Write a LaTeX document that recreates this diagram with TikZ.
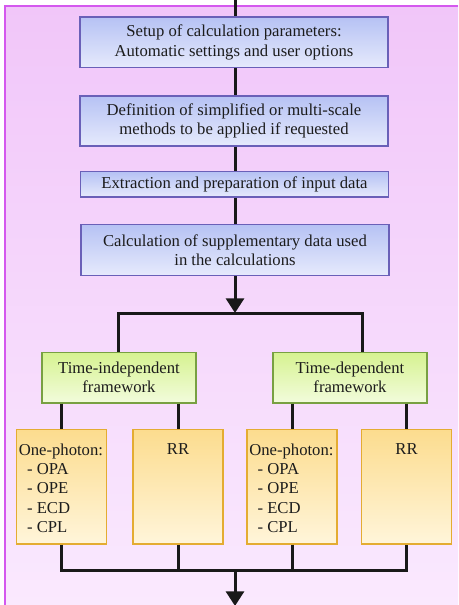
\documentclass[tikz,border=0pt]{standalone}
\usepackage{fontspec}
\setmainfont{Liberation Serif}
\usepackage{xcolor}
\usepackage{tikz}
\usetikzlibrary{
  arrows.meta,
  positioning,
  calc
}
\definecolor{bgtop}{HTML}{F1C6F9}
\definecolor{bgbot}{HTML}{FAE9FE}
\definecolor{bgline}{HTML}{D458EE}
\definecolor{calctop}{HTML}{B6C2F4}
\definecolor{calcbot}{HTML}{E6EAFC}
\definecolor{calcline}{HTML}{6A60B8}
\definecolor{frametop}{HTML}{D6F290}
\definecolor{framebot}{HTML}{F2FCDC}
\definecolor{frameline}{HTML}{78A042}
\definecolor{spectop}{HTML}{FCDC8E}
\definecolor{specbot}{HTML}{FFF5DA}
\definecolor{specline}{HTML}{E4AC32}
\definecolor{ink}{HTML}{1C1C1C}

\begin{document}
\begin{tikzpicture}[
      x=0.75pt, y=-0.75pt,
      font=\fontsize{12.5}{14.5}\selectfont,
      every node/.style={text=ink},
      calcbox/.style={draw=calcline, line width=1pt, top color=calctop,
                   bottom color=calcbot, minimum width=231pt, align=center,
                   inner sep=0pt},
      framebox/.style={draw=frameline, line width=1pt, top color=frametop,
                   bottom color=framebot, minimum width=115.5pt,
                   minimum height=38pt, align=center, inner sep=0pt},
      specbox/.style={draw=specline, line width=1pt, top color=spectop,
                   bottom color=specbot, minimum width=67.5pt,
                   minimum height=86pt, inner sep=0pt},
      link/.style={line width=2.25pt, black!90},
      flow/.style={link, -{Triangle[width=13.5pt,length=11pt]}}
  ]
      % Fond et bordure
      \useasboundingbox (0,0) rectangle (458,605);
      \fill[top color=bgtop, bottom color=bgbot] (5,6) rectangle (458,605);
      \draw[bgline, line width=1.5pt] (458,6) -- (5,6) -- (5,605);

      % Etapes de calcul
      \node[calcbox, minimum height=38pt] (setup) at (234,42.5)
          {Setup of calculation parameters:\\Automatic settings and user options};
      \node[calcbox, minimum height=37.5pt] (methods) at (234,121)
          {Definition of simplified or multi-scale\\methods to be applied if requested};
      \node[calcbox, minimum height=19pt] (extract) at (234.5,184.5)
          {Extraction and preparation of input data};
      \node[calcbox, minimum height=38pt] (suppl) at (235,250)
          {Calculation of supplementary data used\\in the calculations};

      % Cadres
      \node[framebox] (tind) at (119,377.5) {Time-independent\\framework};
      \node[framebox] (tdep) at (350,377.5) {Time-dependent\\framework};

      % Spectres
      \node[specbox] (ophA) at (61.5,486.5) {};
      \node[specbox] (rrA) at (178,486.5) {};
      \node[specbox] (ophB) at (292,486.5) {};
      \node[specbox] (rrB) at (406.5,486.5) {};
      \foreach \s in {ophA,ophB}
          \node[anchor=north west, align=left, inner sep=0pt]
              at ([xshift=2pt,yshift=-11pt]\s.north west)
              {One-photon:\\\ \ - OPA\\\ \ - OPE\\\ \ - ECD\\\ \ - CPL};
      \foreach \s in {rrA,rrB}
          \node[anchor=north, inner sep=0pt] at ([yshift=-11pt]\s.north) {RR};

      % Liaisons
      \coordinate (top) at (235,0);
      \coordinate (split) at (235,313);
      \coordinate (join) at (235,570);
      \coordinate (out) at (235,606);
      \draw[link] (top) -- (setup.north -| top);
      \draw[link] (setup.south -| top) -- (methods.north -| top);
      \draw[link] (methods.south -| top) -- (extract.north -| top);
      \draw[link] (extract.south -| top) -- (suppl.north -| top);
      \draw[flow] (suppl.south -| top) -- (split);
      \draw[link] (tind.north -| 118,0) |- (split -| 362,0) -- (tdep.north -| 362,0);
      \foreach \g/\s in {tind/ophA,tind/rrA,tdep/ophB,tdep/rrB}
          \draw[link] (\g.south -| \s) -- (\s.north);
      \draw[link] (ophA.south) |- (join) -| (rrB.south);
      \draw[link] (rrA.south) -- (rrA.south |- join);
      \draw[link] (ophB.south) -- (ophB.south |- join);
      \draw[flow] (join) -- (out);
  \end{tikzpicture}
\end{document}
